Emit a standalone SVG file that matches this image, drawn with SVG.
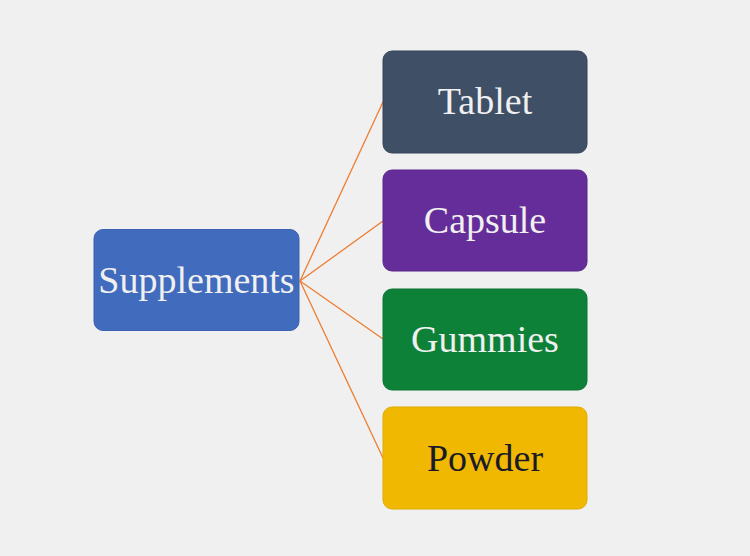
<svg xmlns="http://www.w3.org/2000/svg" width="750" height="556" viewBox="0 0 750 556">
<style>
.box{stroke-width:1}
.lbl{font-family:"Liberation Serif","Times New Roman",serif;font-size:38px;text-anchor:middle}
.conn{stroke:#ed7d31;stroke-width:1.3;fill:none}
</style>
<rect width="750" height="556" fill="#f0f0f0"/>
<g id="connectors">
<line class="conn" x1="300" y1="281" x2="383" y2="102"/>
<line class="conn" x1="300" y1="281" x2="383" y2="221"/>
<line class="conn" x1="300" y1="281" x2="383" y2="339"/>
<line class="conn" x1="300" y1="281" x2="383" y2="458"/>
</g>
<g id="supplements">
<rect class="box" x="94" y="229.5" width="205" height="101" rx="9" fill="#416bbd" stroke="#3a62ad"/>
<text class="lbl" x="196.5" y="292.5" fill="#f0f0f0">Supplements</text>
</g>
<g id="tablet">
<rect class="box" x="383" y="51" width="204" height="102" rx="9" fill="#3f4f66" stroke="#36455a"/>
<text class="lbl" x="485" y="113.5" fill="#f0f0f0">Tablet</text>
</g>
<g id="capsule">
<rect class="box" x="383" y="170" width="204" height="101" rx="9" fill="#652d99" stroke="#5a278a"/>
<text class="lbl" x="485" y="232.5" fill="#f0f0f0">Capsule</text>
</g>
<g id="gummies">
<rect class="box" x="383" y="289" width="204" height="101" rx="9" fill="#0e8138" stroke="#0b7231"/>
<text class="lbl" x="485" y="351.5" fill="#f0f0f0">Gummies</text>
</g>
<g id="powder">
<rect class="box" x="383" y="407" width="204" height="102" rx="9" fill="#f0b800" stroke="#e0ab00"/>
<text class="lbl" x="485" y="470.5" fill="#1a1a2a">Powder</text>
</g>
</svg>
